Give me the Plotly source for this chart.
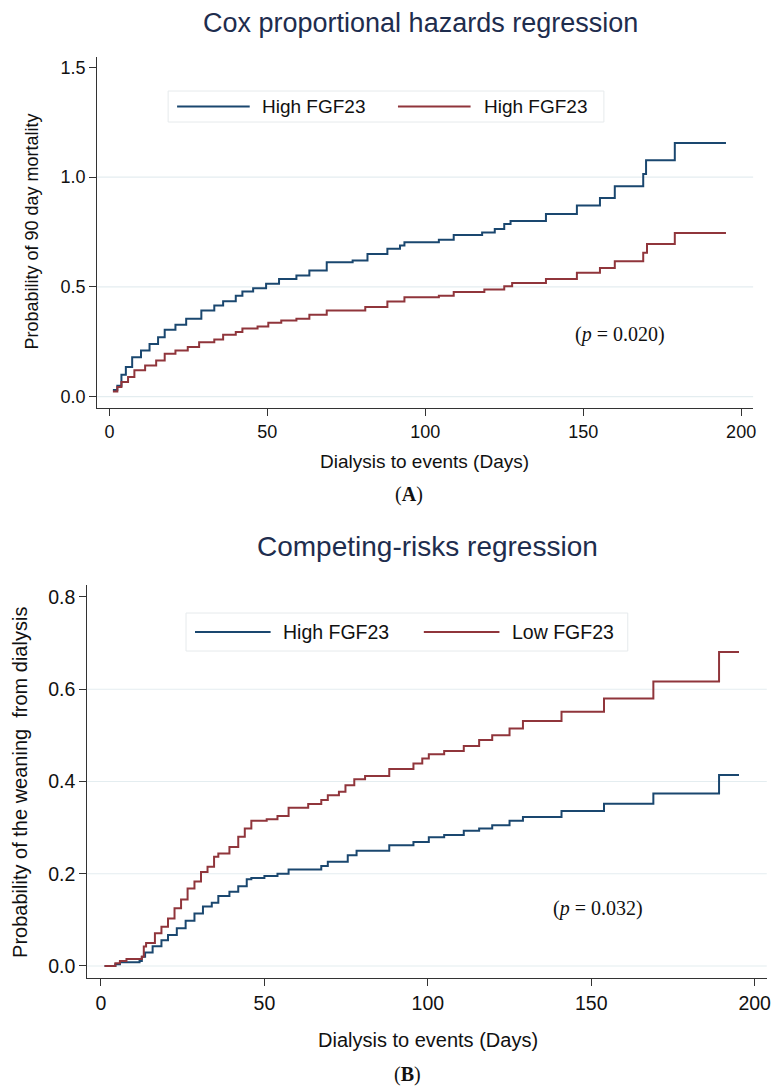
import plotly.graph_objects as go

# ---------------- data ----------------
series_names_a = ["High FGF23", "High FGF23"]
series_names_b = ["High FGF23", "Low FGF23"]

cox_high_t = [1.1, 2.5, 3.8, 5.2, 7.2, 10, 12.7, 15.4, 17.5, 20.9, 24.3, 29.1, 33.2, 36, 40, 42.1,
              45.5, 49.6, 53.7, 59.2, 63.3, 68.8, 77, 81.7, 88, 92, 93.4, 104.3, 109, 118, 122, 125,
              127, 138.2, 148, 155.3, 160, 169, 169.9, 179, 195.2]
cox_high_y = [0.03, 0.05, 0.10, 0.135, 0.18, 0.21, 0.24, 0.27, 0.305, 0.327, 0.355, 0.392, 0.415,
              0.435, 0.46, 0.479, 0.494, 0.514, 0.536, 0.552, 0.574, 0.612, 0.62, 0.65, 0.673, 0.688,
              0.703, 0.715, 0.736, 0.748, 0.764, 0.786, 0.80, 0.832, 0.87, 0.905, 0.958, 1.014, 1.077,
              1.155, 1.155]

cox_low_t = [1.1, 2.5, 3.8, 5.9, 7.9, 11.3, 14.8, 17.5, 20.9, 24.8, 28.4, 33.2, 36, 40, 42.1, 46.9,
             50.3, 54.4, 59.2, 63.3, 68.8, 81, 88, 93.4, 104.3, 109, 118.7, 125, 127.5, 138.2, 148,
             155.3, 160, 169, 170.2, 179, 195.2]
cox_low_y = [0.024, 0.044, 0.067, 0.089, 0.12, 0.142, 0.165, 0.195, 0.21, 0.226, 0.248, 0.26, 0.282,
             0.294, 0.31, 0.32, 0.336, 0.347, 0.355, 0.373, 0.392, 0.408, 0.433, 0.453, 0.46, 0.476,
             0.488, 0.503, 0.517, 0.536, 0.564, 0.586, 0.617, 0.655, 0.695, 0.745, 0.745]

cr_high_t = [1.1, 4.4, 5.8, 11.8, 12.5, 13.5, 15.8, 18.5, 20.5, 23.2, 25.9, 28.6, 31.2, 33.9, 35.9,
             39.3, 42, 44.6, 46, 50, 54, 57.4, 67.4, 69.4, 75.5, 78.2, 88.2, 95.6, 100.3, 105, 111,
             115.7, 119.7, 125, 129.1, 140.9, 153.9, 169, 189.1, 195.2]
cr_high_y = [0, 0.004, 0.008, 0.011, 0.02, 0.029, 0.043, 0.056, 0.067, 0.082, 0.098, 0.114, 0.129,
             0.137, 0.152, 0.161, 0.173, 0.188, 0.191, 0.195, 0.2, 0.209, 0.217, 0.226, 0.24, 0.25,
             0.262, 0.269, 0.279, 0.284, 0.293, 0.298, 0.305, 0.315, 0.323, 0.336, 0.352, 0.374,
             0.414, 0.414]

cr_low_t = [1.1, 4.4, 5.8, 7.8, 12.5, 13.1, 13.8, 16.5, 18.5, 20.5, 22.5, 24.5, 26.5, 28.6, 30.6,
            32.6, 34.6, 35.9, 39.3, 42, 44, 46, 50.7, 54, 57.4, 63.4, 67.4, 69.4, 72.8, 74.8, 77.5,
            80.8, 88.2, 95.6, 98.3, 100.3, 105, 111, 115.7, 119.7, 125, 129.1, 140.9, 153.9, 169,
            189.1, 195.2]
cr_low_y = [0, 0.006, 0.011, 0.015, 0.02, 0.042, 0.05, 0.071, 0.085, 0.103, 0.125, 0.144, 0.168,
            0.183, 0.204, 0.215, 0.237, 0.244, 0.258, 0.28, 0.298, 0.315, 0.318, 0.325, 0.343,
            0.351, 0.36, 0.37, 0.378, 0.392, 0.405, 0.412, 0.427, 0.439, 0.45, 0.459, 0.466, 0.477,
            0.49, 0.5, 0.515, 0.531, 0.551, 0.58, 0.617, 0.681, 0.681]

x_ticks = [0, 50, 100, 150, 200]
y_ticks_a = [0.0, 0.5, 1.0, 1.5]
y_ticks_b = [0.0, 0.2, 0.4, 0.6, 0.8]

title_a = "Cox proportional hazards regression"
title_b = "Competing-risks regression"
xlabel = "Dialysis to events (Days)"
ylabel_a = "Probability of 90 day mortality"
ylabel_b = "Probability of the weaning\u00a0\u00a0from dialysis"
ptext_a = "(<i>p</i> = 0.020)"
ptext_b = "(<i>p</i> = 0.032)"
ptext_a_pos = (161.7, 0.281)
ptext_b_pos = (152.2, 0.125)

# ---------------- styling ----------------
W, H = 784, 1087
BLUE = "#1a476f"
RED = "#90353b"
NAVY = "#1e2d4e"
GRID = "#e4edf0"
AX = "#333333"
SANS = "Liberation Sans, Arial, sans-serif"
SERIF = "Liberation Serif, Times New Roman, serif"


def PX(x):
    return x / W


def PY(y):
    return 1 - y / H


fig = go.Figure()
fig.add_trace(go.Scatter(x=cox_high_t, y=cox_high_y, mode="lines", line=dict(color=BLUE, width=2, shape="hv"),
                         name=series_names_a[0], showlegend=False, xaxis="x", yaxis="y"))
fig.add_trace(go.Scatter(x=cox_low_t, y=cox_low_y, mode="lines", line=dict(color=RED, width=2, shape="hv"),
                         name=series_names_a[1], showlegend=False, xaxis="x", yaxis="y"))
fig.add_trace(go.Scatter(x=cr_high_t, y=cr_high_y, mode="lines", line=dict(color=BLUE, width=2, shape="hv"),
                         name=series_names_b[0], showlegend=False, xaxis="x2", yaxis="y2"))
fig.add_trace(go.Scatter(x=cr_low_t, y=cr_low_y, mode="lines", line=dict(color=RED, width=2, shape="hv"),
                         name=series_names_b[1], showlegend=False, xaxis="x2", yaxis="y2"))

axis_common = dict(showgrid=False, zeroline=False, showline=True, linecolor=AX, linewidth=1,
                   ticks="outside", tickcolor=AX, ticklen=7, tickwidth=1)

fig.update_layout(
    width=W, height=H,
    margin=dict(l=0, r=0, t=0, b=0),
    paper_bgcolor="white", plot_bgcolor="white",
    showlegend=False,
    xaxis=dict(domain=[PX(97.7), PX(757)], range=[-3.87, 203.8], tickvals=x_ticks,
               tickfont=dict(family=SANS, size=18, color="#111"), anchor="y", **axis_common),
    yaxis=dict(domain=[PY(408.3), PY(56.7)], range=[-0.053, 1.548], tickvals=y_ticks_a,
               tickformat=".1f", tickfont=dict(family=SANS, size=18, color="#111"), anchor="x",
               **axis_common),
    xaxis2=dict(domain=[PX(87.7), PX(770.7)], range=[-4.2, 203.7], tickvals=x_ticks,
                tickfont=dict(family=SANS, size=19.5, color="#111"), anchor="y2", **axis_common),
    yaxis2=dict(domain=[PY(978.3), PY(585)], range=[-0.0267, 0.826], tickvals=y_ticks_b,
                tickformat=".1f", tickfont=dict(family=SANS, size=19.5, color="#111"), anchor="x2",
                **axis_common),
)

shapes = []
for v in y_ticks_a[:-1]:
    shapes.append(dict(type="line", xref="x domain", yref="y", x0=0, x1=1, y0=v, y1=v,
                       line=dict(color=GRID, width=1.2), layer="below"))
for v in y_ticks_b[:-1]:
    shapes.append(dict(type="line", xref="x2 domain", yref="y2", x0=0, x1=1, y0=v, y1=v,
                       line=dict(color=GRID, width=1.2), layer="below"))

annotations = []


def ann(text, x, y, size, family=SANS, color="#111", angle=0, xanchor="center", xref="paper",
        yref="paper"):
    annotations.append(dict(text=text, x=x, y=y, xref=xref, yref=yref, showarrow=False,
                            font=dict(family=family, size=size, color=color), textangle=angle,
                            xanchor=xanchor, yanchor="middle"))


# legends (drawn by hand to match the long line samples of the original)
def legend_box(x0, x1, y0, y1, items, size):
    shapes.append(dict(type="rect", xref="paper", yref="paper", x0=PX(x0), x1=PX(x1), y0=PY(y1),
                       y1=PY(y0), line=dict(color="#e6eaec", width=1), fillcolor="white"))
    yc = (y0 + y1) / 2
    for (lx0, lx1, tx, color, label) in items:
        shapes.append(dict(type="line", xref="paper", yref="paper", x0=PX(lx0), x1=PX(lx1),
                           y0=PY(yc), y1=PY(yc), line=dict(color=color, width=2)))
        ann(label, PX(tx), PY(yc), size, xanchor="left")


legend_box(169, 607, 91, 122, [(178, 251, 261, BLUE, series_names_a[0]),
                               (400, 473, 484, RED, series_names_a[1])], 19)
legend_box(187, 631, 613, 651, [(196, 272, 282, BLUE, series_names_b[0]),
                                (426, 502, 513, RED, series_names_b[1])], 19.5)

# titles and labels
ann(title_a, PX(423), PY(23), 27, color=NAVY)
ann(title_b, PX(430), PY(546), 28, color=NAVY)
ann(xlabel, PX(427), PY(461), 19)
ann(xlabel, PX(430), PY(1040), 20)
ann(ylabel_a, PX(31.7), PY(232), 18, angle=-90)
ann(ylabel_b, PX(20), PY(782), 20, angle=-90)
ann("(<b>A</b>)", PX(411), PY(495), 20, family=SERIF)
ann("(<b>B</b>)", PX(410), PY(1074), 20, family=SERIF)
ann(ptext_a, ptext_a_pos[0], ptext_a_pos[1], 20, family=SERIF, xref="x", yref="y")
ann(ptext_b, ptext_b_pos[0], ptext_b_pos[1], 20, family=SERIF, xref="x2", yref="y2")

fig.update_layout(shapes=shapes, annotations=annotations)
fig.write_html(
    "out.html",
    config={"displayModeBar": False},
    post_script="document.body.style.margin='0';document.body.style.overflow='hidden';",
)
